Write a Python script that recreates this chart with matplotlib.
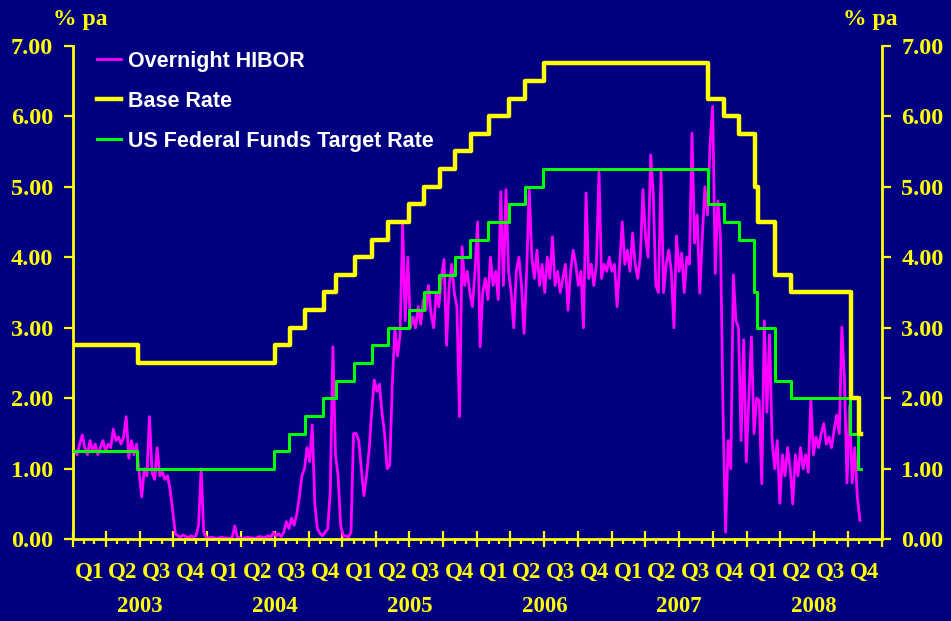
import numpy as np
import pandas as pd
import matplotlib
matplotlib.use("Agg")
import matplotlib.pyplot as plt
import matplotlib.dates as mdates

# weekly readings of overnight HIBOR (% pa), starting early Jan 2003
hibor_2003 = [1.25, 1.20, 1.35, 1.48, 1.30, 1.20, 1.40, 1.25, 1.35, 1.20, 1.30, 1.40, 1.25,
              1.35, 1.30, 1.56, 1.40, 1.45, 1.35, 1.45, 1.74, 1.15, 1.40, 1.20, 1.35, 0.95,
              0.60, 1.00, 0.90, 1.74, 0.95, 0.85, 1.30, 0.90, 0.95, 0.85, 0.90, 0.70, 0.40,
              0.08, 0.05, 0.03, 0.06, 0.04, 0.02, 0.05, 0.03, 0.05, 0.20, 1.00, 0.10, 0.02]
hibor_2004 = [0.02, 0.03, 0.02, 0.01, 0.02, 0.03, 0.02, 0.02, 0.01, 0.02, 0.19, 0.03,
              0.02, 0.01, 0.02, 0.03, 0.02, 0.02, 0.01, 0.03, 0.04, 0.02, 0.03, 0.05, 0.03,
              0.10, 0.05, 0.08, 0.04, 0.10, 0.25, 0.15, 0.30, 0.20, 0.35, 0.60, 0.90, 1.00,
              1.30, 1.10, 1.62, 0.50, 0.15, 0.08, 0.05, 0.10, 0.15, 0.70, 2.73, 1.20, 0.90, 0.20]
hibor_2005 = [0.05, 0.05, 0.03, 0.10, 1.50, 1.50, 1.40, 1.00, 0.62, 0.90, 1.25, 1.80, 2.26,
              2.10, 2.20, 1.80, 1.50, 1.00, 1.05, 2.20, 3.00, 2.60, 2.90, 4.48, 3.10, 4.00,
              3.00, 3.15, 3.00, 3.30, 3.05, 3.40, 3.25, 3.60, 3.20, 3.00, 3.50, 3.30, 3.70,
              3.97, 2.75, 3.60, 3.90, 3.50, 3.30, 1.74, 4.15, 3.60, 3.80, 3.50, 3.30, 3.80]
hibor_2006 = [4.50, 2.73, 3.50, 3.70, 3.40, 4.00, 3.60, 3.80, 3.40, 4.93, 3.60, 4.96, 3.80,
              3.50, 3.00, 3.80, 4.00, 3.60, 2.92, 3.80, 4.96, 4.00, 3.70, 4.10, 3.60, 3.90,
              3.50, 4.00, 3.70, 4.29, 3.60, 3.80, 3.50, 3.70, 3.90, 3.25, 3.80, 4.10, 3.90,
              3.60, 3.80, 3.00, 4.91, 3.70, 3.90, 3.60, 3.90, 5.21, 3.70, 3.90, 3.80, 4.00]
hibor_2007 = [3.80, 3.90, 3.30, 3.90, 4.50, 3.90, 4.10, 3.80, 4.34, 3.90, 3.70, 4.00, 4.96,
              4.30, 4.00, 5.45, 4.90, 3.60, 3.50, 5.21, 3.50, 3.90, 4.10, 3.80, 3.00, 4.30,
              3.80, 4.06, 3.50, 4.00, 3.90, 5.76, 4.20, 4.60, 3.49, 4.30, 5.00, 4.60, 5.60,
              6.14, 3.77, 4.80, 4.30, 1.83, 0.10, 1.40, 1.00, 3.75, 3.10, 3.00, 1.40, 2.83]
hibor_2008 = [1.10, 2.00, 2.87, 1.50, 2.00, 1.97, 0.79, 3.10, 1.80, 2.90, 1.41, 1.00, 1.40,
              0.51, 1.20, 0.90, 1.30, 1.00, 0.50, 1.20, 0.90, 1.30, 1.00, 1.20, 0.95, 1.97,
              1.20, 1.45, 1.30, 1.50, 1.64, 1.35, 1.45, 1.30, 1.55, 1.76, 1.50, 3.01, 2.26,
              0.80, 1.90, 0.80, 1.30, 0.60, 0.27]
hibor = hibor_2003 + hibor_2004 + hibor_2005 + hibor_2006 + hibor_2007 + hibor_2008
hibor_dates = pd.date_range("2003-01-06", periods=len(hibor), freq="7D")

# HK base rate changes
base_dates = ["2003-01-01", "2003-06-26", "2004-07-01", "2004-08-11", "2004-09-22",
              "2004-11-11", "2004-12-15", "2005-02-03", "2005-03-23", "2005-05-04",
              "2005-07-01", "2005-08-10", "2005-09-21", "2005-11-02", "2005-12-14",
              "2006-02-01", "2006-03-29", "2006-05-11", "2006-06-30", "2007-09-19",
              "2007-11-01", "2007-12-12", "2008-01-23", "2008-01-31", "2008-03-19",
              "2008-05-01", "2008-10-09", "2008-10-31"]
base_rate = [2.75, 2.50, 2.75, 3.00, 3.25, 3.50, 3.75, 4.00, 4.25, 4.50, 4.75, 5.00, 5.25,
             5.50, 5.75, 6.00, 6.25, 6.50, 6.75, 6.25, 6.00, 5.75, 5.00, 4.50, 3.75, 3.50,
             2.00, 1.50]

# US Fed funds target changes
fed_dates = ["2003-01-01", "2003-06-25", "2004-06-30", "2004-08-10", "2004-09-21",
             "2004-11-10", "2004-12-14", "2005-02-02", "2005-03-22", "2005-05-03",
             "2005-06-30", "2005-08-09", "2005-09-20", "2005-11-01", "2005-12-13",
             "2006-01-31", "2006-03-28", "2006-05-10", "2006-06-29", "2007-09-18",
             "2007-10-31", "2007-12-11", "2008-01-22", "2008-01-30", "2008-03-18",
             "2008-04-30", "2008-10-08", "2008-10-29"]
fed_rate = [1.25, 1.00, 1.25, 1.50, 1.75, 2.00, 2.25, 2.50, 2.75, 3.00, 3.25, 3.50, 3.75,
            4.00, 4.25, 4.50, 4.75, 5.00, 5.25, 4.75, 4.50, 4.25, 3.50, 3.00, 2.25, 2.00,
            1.50, 1.00]

end_date = "2008-11-05"
years = ["2003", "2004", "2005", "2006", "2007", "2008"]
quarters = ["Q1", "Q2", "Q3", "Q4"]

NAVY = "#000080"
YELLOW = "#FFFF00"
serif = ["Liberation Serif", "DejaVu Serif"]
sans = ["Liberation Sans", "DejaVu Sans"]

fig = plt.figure(figsize=(9.51, 6.21), dpi=100, facecolor=NAVY)
ax = fig.add_axes([72.7 / 951, 81.7 / 621, 809 / 951, 493.6 / 621])
ax.set_facecolor(NAVY)


def steps(dates, values):
    # extend the last level to the end of the series
    d = pd.to_datetime(list(dates) + [end_date])
    v = list(values) + [values[-1]]
    return d, v


ax.plot(hibor_dates, hibor, color="#FF00FF", lw=2.0, zorder=2, label="Overnight HIBOR")
bd, bv = steps(base_dates, base_rate)
ax.step(bd, bv, where="post", color=YELLOW, lw=3.2, zorder=4, label="Base Rate")
fd, fv = steps(fed_dates, fed_rate)
ax.step(fd, fv, where="post", color="#00FF00", lw=2.2, zorder=3,
        label="US Federal Funds Target Rate")

ax.set_xlim(pd.Timestamp("2003-01-01"), pd.Timestamp("2009-01-01"))
ax.set_ylim(0, 7)

# spines
for side in ["left", "right", "bottom"]:
    ax.spines[side].set_color(YELLOW)
    ax.spines[side].set_linewidth(2)
ax.spines["top"].set_visible(False)

# y axis on both sides
ax.set_yticks(np.arange(0, 8, 1))
ax.yaxis.set_major_formatter(plt.FuncFormatter(lambda v, p: f"{v:.2f}"))
ax.tick_params(axis="y", which="major", direction="out", length=6.5, width=1.6,
               color=YELLOW, labelcolor=YELLOW, left=True, right=True,
               labelleft=True, labelright=True, pad=7.5)
for lab in ax.get_yticklabels():
    lab.set_fontfamily(serif)
    lab.set_fontweight("bold")
    lab.set_fontsize(17.5)

# x axis: quarter ticks and month minor ticks
ax.xaxis.set_major_locator(mdates.MonthLocator(bymonth=[1, 4, 7, 10]))
ax.xaxis.set_minor_locator(mdates.MonthLocator())
ax.xaxis.set_major_formatter(plt.NullFormatter())
ax.tick_params(axis="x", which="major", direction="inout", length=12, width=1.6, color=YELLOW)
ax.tick_params(axis="x", which="minor", direction="out", length=3.6, width=1.6, color=YELLOW)

# quarter and year labels
for yr in years:
    for q, ql in enumerate(quarters):
        mid = pd.Timestamp(f"{yr}-{3 * q + 1:02d}-01") + pd.Timedelta(days=45)
        ax.text(mid, -0.475, ql, ha="center", va="center", color=YELLOW, fontsize=16.5,
                fontweight="bold", family=serif, clip_on=False)
    ax.text(pd.Timestamp(f"{yr}-07-02"), -0.95, yr, ha="center", va="center", color=YELLOW,
            fontsize=16.5, fontweight="bold", family=serif, clip_on=False)

fig.text(80 / 951, 1 - 19 / 621, "% pa", ha="center", va="center", color=YELLOW,
         fontsize=17, fontweight="bold", family=serif)
fig.text(870 / 951, 1 - 19 / 621, "% pa", ha="center", va="center", color=YELLOW,
         fontsize=17, fontweight="bold", family=serif)

leg = ax.legend(loc="upper left", bbox_to_anchor=(0.030, 0.99), frameon=False,
                prop={"family": sans, "weight": "bold", "size": 15.5},
                handlelength=1.1, handletextpad=0.35, labelspacing=0.88, borderaxespad=0,
                borderpad=0)
for t in leg.get_texts():
    t.set_color("white")

fig.savefig("out.png", dpi=100, facecolor=NAVY)
